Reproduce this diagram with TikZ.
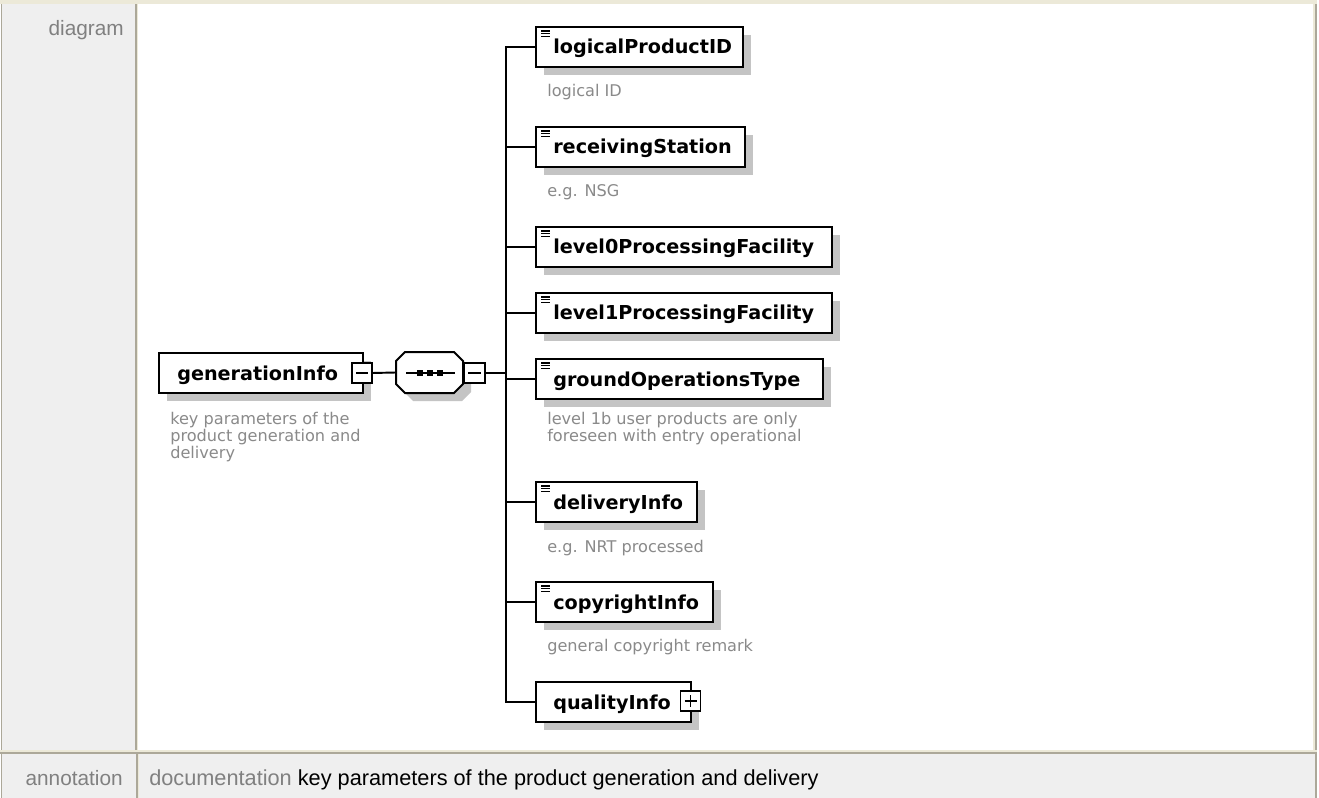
\documentclass[tikz,border=0pt]{standalone}
\usepackage{fontspec}
\setmainfont{DejaVu Sans}
\newfontfamily\dvsans{DejaVu Sans}
\newfontfamily\arialike{Liberation Sans}

\definecolor{framebeige}{HTML}{ECE9D8}
\definecolor{framegray}{HTML}{ACA899}
\definecolor{cellgray}{HTML}{EFEFEF}
\definecolor{labelgray}{HTML}{808080}
\definecolor{descgray}{HTML}{8A8A8A}
\definecolor{shadowc}{HTML}{C4C4C4}

\newcommand\elfont{\dvsans\bfseries\fontsize{14.4}{17}\selectfont}
\newcommand\descfont{\dvsans\fontsize{12.1}{14}\selectfont}
\newcommand\cellfont{\arialike\fontsize{15.6}{18}\selectfont}
\newcommand\docfont{\arialike\fontsize{16.3}{18}\selectfont}

\tikzset{
  elbox/.style={draw=black, fill=white, line width=1.5pt, inner sep=0pt, outer sep=0pt},
  eltext/.style={font=\elfont, inner sep=0pt, anchor=base west},
  desc/.style={font=\descfont, text=descgray, inner sep=0pt, anchor=base west},
  cell/.style={font=\cellfont, inner sep=0pt},
  conn/.style={draw=black, line width=1.45pt},
  toggle/.style={draw=black, fill=white, line width=1pt, inner sep=0pt, outer sep=0pt, minimum size=15pt},
  tickline/.style={draw=black, line width=1.1pt},
  iconline/.style={draw=black, line width=1pt}
}

% element box with its drop shadow: name, left, top, right, bottom (pixel grid)
\newcommand\xsdbox[5]{%
  \fill[shadowc] ({#2+8},{#3+8}) rectangle ({#4+8},{#5+8});
  \node[elbox, minimum width={(#4-#2)*0.75pt}, minimum height={(#5-#3)*0.75pt}]
    (#1) at ({(#2+#4)/2},{(#3+#5)/2}) {};
}
% small "simple content" mark in the upper left corner of a box
\newcommand\xsdicon[2]{%
  \foreach \k in {0,1,2}
    \draw[iconline] ({#1+5},{#2+4+2.7*\k}) -- ({#1+14},{#2+4+2.7*\k});
}

\begin{document}
\begin{tikzpicture}[x=0.75pt, y=-0.75pt]
\useasboundingbox (0,0) rectangle (1319,798);

% ---- table frame ----
\fill[white] (0,0) rectangle (1319,798);
\fill[framebeige] (0,0) rectangle (1316.5,4);
\fill[framegray] (0.5,4) rectangle (2,798);
\fill[cellgray] (2,4) rectangle (135,750);
\fill[framegray] (135,4) rectangle (136.7,750);
\fill[framebeige] (136.7,4) rectangle (138,750);
\fill[framebeige] (1313,4) rectangle (1314.5,753);
\fill[framegray] (1314.5,4) rectangle (1316.5,798);
\fill[framebeige] (0,750) rectangle (1316.5,751.7);
\fill[framegray] (0,751.7) rectangle (1316.5,753.5);
\fill[cellgray] (2,753.5) rectangle (1314.5,798);
\fill[framegray] (136,753.5) rectangle (137.5,798);
\fill[framebeige] (137.5,753.5) rectangle (138.5,798);

\node[cell, text=labelgray, anchor=base east] (lbldiagram) at (124,36) {diagram};
\node[cell, text=labelgray, anchor=base east] (lblannot) at (123,785) {annotation};
\node[cell, font=\docfont, anchor=base west] (doctext) at (149,785)
  {\textcolor{labelgray}{documentation} key parameters of the product generation and delivery};

% ---- root element ----
\xsdbox{gen}{159}{353}{363}{393}
\node[eltext] (gen-t) at (177,380) {generationInfo};
\node[toggle] (gmin) at (362,373) {};
\draw[tickline] ([xshift=3pt]gmin.west) -- ([xshift=-3pt]gmin.east);
\node[desc] (gen-d1) at (170,424) {key parameters of the};
\node[desc] (gen-d2) at (170,441) {product generation and};
\node[desc] (gen-d3) at (170,458) {delivery};

% ---- sequence compositor ----
\fill[shadowc, xshift=6pt, yshift=-6pt]
  (405,352) -- (454,352) -- (463,361) -- (463,384) -- (454,393) -- (405,393) -- (396,384) -- (396,361) -- cycle;
\filldraw[fill=white, draw=black, line width=1.5pt]
  (405,352) -- (454,352) -- (463,361) -- (463,384) -- (454,393) -- (405,393) -- (396,384) -- (396,361) -- cycle;
\node[inner sep=0pt, outer sep=0pt, minimum width=50.25pt, minimum height=30.75pt] (seq) at (429.5,372.5) {};
\draw[line width=1.2pt] (406,373) -- (455,373);
\foreach \dx in {420,430,440}
  \fill ({\dx-3},370) rectangle ({\dx+3},376);
\node[toggle, minimum width=15.75pt] (smin) at (474.5,373) {};
\draw[tickline] ([xshift=3pt]smin.west) -- ([xshift=-3pt]smin.east);

% ---- child elements ----
\xsdbox{lpid}{536}{27}{743}{67}
\xsdicon{536}{27}
\node[eltext] (lpid-t) at (553,54) {logicalProductID};
\node[desc] (lpid-d) at (547,97) {logical ID};

\xsdbox{rstat}{536}{127}{745}{167}
\xsdicon{536}{127}
\node[eltext] (rstat-t) at (553,154) {receivingStation};
\node[desc] (rstat-d) at (547,197) {e.g. NSG};

\xsdbox{lzero}{536}{227}{832}{267}
\xsdicon{536}{227}
\node[eltext] (lzero-t) at (553,254) {level0ProcessingFacility};

\xsdbox{lone}{536}{293}{832}{333}
\xsdicon{536}{293}
\node[eltext] (lone-t) at (553,320) {level1ProcessingFacility};

\xsdbox{gops}{536}{359}{823}{399}
\xsdicon{536}{359}
\node[eltext] (gops-t) at (553,386) {groundOperationsType};
\node[desc] (gops-d1) at (547,424) {level 1b user products are only};
\node[desc] (gops-d2) at (547,441) {foreseen with entry operational};

\xsdbox{deliv}{536}{482}{697}{522}
\xsdicon{536}{482}
\node[eltext] (deliv-t) at (553,509) {deliveryInfo};
\node[desc] (deliv-d) at (547,552) {e.g. NRT processed};

\xsdbox{copyr}{536}{582}{713}{622}
\xsdicon{536}{582}
\node[eltext] (copyr-t) at (553,609) {copyrightInfo};
\node[desc] (copyr-d) at (547,651) {general copyright remark};

\xsdbox{qual}{536}{682}{691}{722}
\node[eltext] (qual-t) at (553,709) {qualityInfo};
\node[toggle] (qplus) at (690.5,701) {};
\draw[tickline] ([xshift=3pt]qplus.west) -- ([xshift=-3pt]qplus.east);
\draw[tickline] ([yshift=-3pt]qplus.north) -- ([yshift=3pt]qplus.south);

% ---- connectors ----
\draw[conn] (gmin.east) -- (seq.west);
\coordinate (bus) at (506,373);
\draw[conn] (smin.east) -- (bus);
\foreach \c in {lpid,rstat,lzero,lone,gops,deliv,copyr,qual}
  \draw[conn] (bus) |- (\c.west);

\end{tikzpicture}
\end{document}
